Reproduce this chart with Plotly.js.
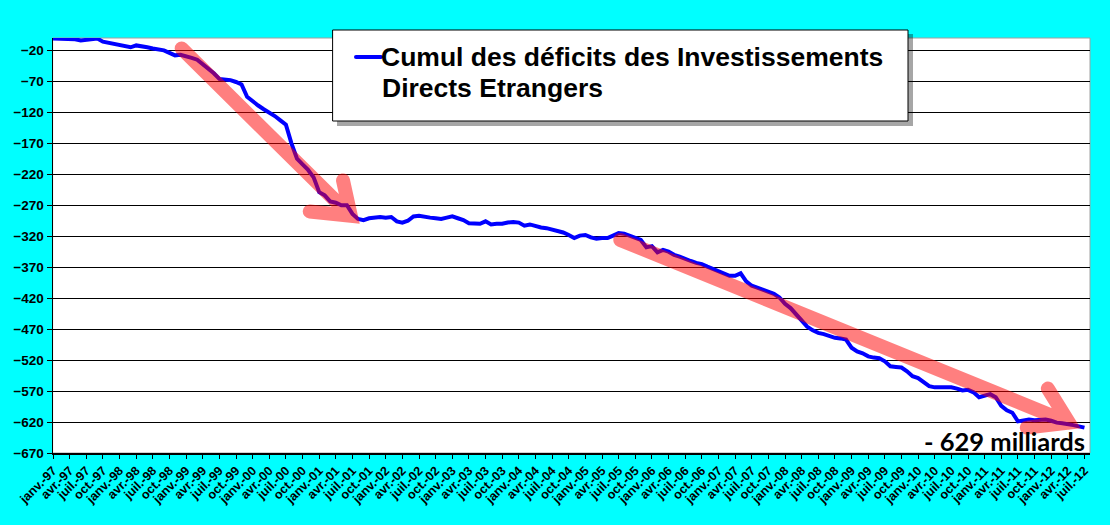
<!DOCTYPE html>
<html>
<head>
<meta charset="utf-8">
<script src="https://cdn.plot.ly/plotly-3.0.1.min.js"></script>
<style>
    html, body { margin: 0; padding: 0; background: #00ffff; }
    #chart { width: 1110px; height: 525px; }
    .shapelayer path { stroke-linecap: round; }
</style>
</head>
<body>
<div id="chart"></div>
<script>
// cumulative FDI deficit, monthly, janv.-97 .. juil.-12 (milliards)
var cumulDeficit = [
    -1, -1, -1, -1, -2, -4, -3, -1, -1, -6, -8, -10,                     // 1997
    -12, -13, -15, -12, -13, -15, -17, -18, -20, -24, -28, -27,          // 1998
    -29, -32, -35, -42, -50, -57, -66, -67, -68, -71, -75, -95,          // 1999
    -103, -109, -115, -120, -126, -133, -140, -170, -195, -204, -213, -225, // 2000
    -249, -254, -264, -266, -270, -270, -284, -292, -294, -291, -290, -289, // 2001
    -290, -289, -296, -298, -295, -288, -287, -289, -290, -291, -292, -290, // 2002
    -288, -291, -294, -299, -300, -300, -296, -301, -300, -300, -298, -297, // 2003
    -298, -303, -301, -304, -306, -307, -309, -312, -314, -318, -323, -319, // 2004
    -318, -322, -324, -323, -323, -319, -315, -316, -319, -322, -326, -338, // 2005
    -336, -346, -342, -345, -350, -353, -357, -360, -363, -365, -369, -373, // 2006
    -376, -381, -384, -384, -380, -393, -400, -403, -406, -409, -413, -419, // 2007
    -429, -436, -446, -458, -466, -472, -476, -478, -481, -484, -485, -487, // 2008
    -500, -506, -509, -514, -516, -517, -522, -530, -531, -532, -538, -546, // 2009
    -549, -556, -562, -564, -564, -565, -564, -566, -569, -568, -572, -580, // 2010
    -578, -575, -580, -594, -601, -605, -619, -617, -616, -617, -617, -616, // 2011
    -618, -621, -622, -623, -625, -627, -629                              // 2012
];

var quarterNames = ['janv.', 'avr.', 'juil.', 'oct.'];
var years = ['97', '98', '99', '00', '01', '02', '03', '04',
             '05', '06', '07', '08', '09', '10', '11', '12'];

var seriesName = 'Cumul des déficits des Investissements Directs Etrangers';
var legendLines = ['Cumul des déficits des Investissements', 'Directs Etrangers'];
var endLabel = '- 629 milliards';

// month index for every point, and one tick every quarter
var months = cumulDeficit.map((_, i) => i);
var tickVals = [];
var tickText = [];
years.forEach((yy, y) => {
    quarterNames.forEach((q, k) => {
        let m = y * 12 + k * 3;
        if (m < cumulDeficit.length) {
            tickVals.push(m);
            tickText.push(q + '-' + yy);
        }
    });
});

// red trend arrows, [x (month), y (milliards)]
var arrows = [
    {shaft: [[23.2, -17], [53.7, -287]], barbs: [[52.3, -230], [46.3, -280]]},
    {shaft: [[102.3, -326], [183.2, -621]], barbs: [[179.4, -566], [175.6, -629]]}
];

function arrow_path(a){
    let p = (pt) => pt[0] + ',' + pt[1];
    let tip = a.shaft[1];
    return 'M' + p(a.shaft[0]) + ' L' + p(tip) +
           ' M' + p(a.barbs[0]) + ' L' + p(tip) + ' L' + p(a.barbs[1]);
}

// pixel helpers for the legend box (plot area 53..1090 x 38..453)
function px(x){ return (x - 53) / 1037; }
function py(y){ return (453 - y) / 415; }

function plot(){
    let gd = document.getElementById('chart');

    let d = [{
        type: 'scatter',
        mode: 'lines',
        name: seriesName,
        x: months,
        y: cumulDeficit,
        line: {color: '#0000ff', width: 4},
        showlegend: false,
        hoverinfo: 'skip'
    }];

    let shapes = [];
    // plot area border
    shapes.push({
        type: 'rect', xref: 'paper', yref: 'paper', layer: 'below',
        x0: 0, x1: 1, y0: 0, y1: 1,
        line: {color: '#a0a0a0', width: 1}
    });
    arrows.forEach(a => shapes.push({
        type: 'path', xref: 'x', yref: 'y', layer: 'above',
        path: arrow_path(a),
        line: {color: 'rgba(255,0,0,0.5)', width: 14}
    }));
    // legend box with shadow
    shapes.push({
        type: 'rect', xref: 'paper', yref: 'paper',
        x0: px(337), x1: px(913), y0: py(126), y1: py(34),
        fillcolor: 'rgba(0,0,0,0.35)', line: {width: 0}
    });
    shapes.push({
        type: 'rect', xref: 'paper', yref: 'paper',
        x0: px(333), x1: px(908), y0: py(121), y1: py(30),
        fillcolor: 'white', line: {color: 'black', width: 1}
    });
    shapes.push({
        type: 'line', xref: 'paper', yref: 'paper',
        x0: px(356), x1: px(381), y0: py(57), y1: py(57),
        line: {color: '#0000ff', width: 4}
    });

    let legendFont = {family: 'Liberation Sans, Arial, sans-serif', size: 26.5, color: 'black', weight: 'bold'};
    let annotations = [
        {xref: 'paper', yref: 'paper', x: px(379), y: py(57), xanchor: 'left', yanchor: 'middle',
         text: legendLines[0], showarrow: false, font: legendFont},
        {xref: 'paper', yref: 'paper', x: px(380), y: py(88), xanchor: 'left', yanchor: 'middle',
         text: legendLines[1], showarrow: false, font: legendFont},
        {xref: 'paper', yref: 'paper', x: px(1087), y: py(458), xanchor: 'right', yanchor: 'bottom',
         text: endLabel, showarrow: false,
         font: {family: 'Lato, Open Sans, sans-serif', size: 25.5, color: 'black', weight: 'bold'}}
    ];

    let l = {
        width: 1110,
        height: 525,
        margin: {l: 53, r: 20, t: 38, b: 72},
        paper_bgcolor: '#00ffff',
        plot_bgcolor: 'white',
        showlegend: false,
        xaxis: {
            range: [0, 187],
            tickmode: 'array',
            tickvals: tickVals,
            ticktext: tickText,
            tickangle: -45,
            ticks: 'outside',
            ticklen: 4,
            tickcolor: 'black',
            showgrid: false,
            zeroline: false,
            showline: true,
            linecolor: 'black',
            linewidth: 1.5,
            tickfont: {family: 'Liberation Sans, Arial, sans-serif', size: 12.5, color: 'black', weight: 'bold'}
        },
        yaxis: {
            range: [-670, 0],
            tick0: -670,
            dtick: 50,
            ticks: 'outside',
            ticklen: 5,
            tickcolor: 'black',
            showgrid: true,
            gridcolor: 'black',
            gridwidth: 1,
            zeroline: false,
            showline: true,
            linecolor: 'black',
            linewidth: 1.5,
            tickfont: {family: 'Liberation Sans, Arial, sans-serif', size: 13.5, color: 'black', weight: 'bold'}
        },
        shapes: shapes,
        annotations: annotations
    };
    let c = {
        displayModeBar: false,
        staticPlot: true
    };

    Plotly.newPlot(gd, d, l, c);
}

plot();
</script>
</body>
</html>
